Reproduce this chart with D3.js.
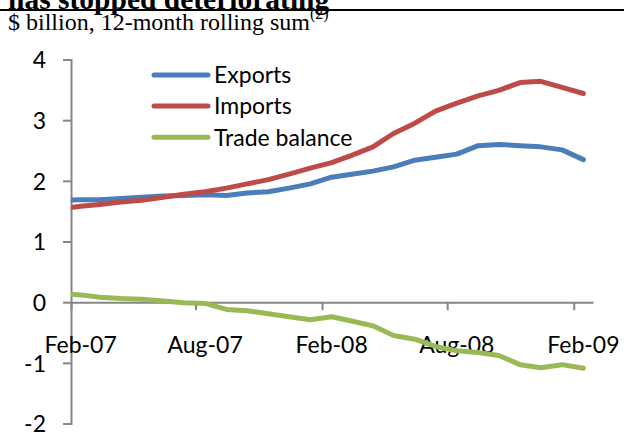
<!DOCTYPE html>
<html>
<head>
<meta charset="utf-8">
<script src="https://cdn.jsdelivr.net/npm/d3@7"></script>
<style>
  html, body { margin: 0; padding: 0; background: #fff; }
  svg { display: block; }
</style>
</head>
<body>
<svg id="chart" width="624" height="436"></svg>
<script>
// ---- data ----
const months = ["2007-01","2007-02","2007-03","2007-04","2007-05","2007-06","2007-07","2007-08","2007-09","2007-10","2007-11","2007-12",
                "2008-01","2008-02","2008-03","2008-04","2008-05","2008-06","2008-07","2008-08","2008-09","2008-10","2008-11","2008-12",
                "2009-01","2009-02"];
const exportsVals = [1.68,1.69,1.69,1.71,1.73,1.75,1.76,1.77,1.76,1.80,1.82,1.88,
                     1.95,2.06,2.11,2.16,2.23,2.34,2.39,2.44,2.58,2.60,2.58,2.56,
                     2.51,2.35];
const importsVals = [1.54,1.58,1.61,1.65,1.68,1.73,1.78,1.82,1.88,1.95,2.02,2.11,
                     2.21,2.30,2.42,2.56,2.78,2.95,3.15,3.28,3.40,3.49,3.62,3.64,
                     3.54,3.44];
const balanceVals = [0.14,0.12,0.08,0.06,0.05,0.02,-0.01,-0.02,-0.12,-0.14,-0.19,-0.24,
                     -0.29,-0.24,-0.31,-0.39,-0.55,-0.61,-0.73,-0.80,-0.83,-0.88,-1.03,-1.08,
                     -1.03,-1.09];
const seriesNames = ["Exports","Imports","Trade balance"];
const yTicks = [4,3,2,1,0,-1,-2];
const xTickMonths = ["2007-02","2007-08","2008-02","2008-08","2009-02"];
const xTickLabels = ["Feb-07","Aug-07","Feb-08","Aug-08","Feb-09"];
const axisStart = "2007-02", axisEnd = "2009-03";

// ---- layout ----
const svg = d3.select("#chart");
const L = 71, R = 593, T = 59.5, B = 423.5;
const colors = ["#4A7EBB","#BE4B48","#98B954"];
const tickFont = "Lato, 'Open Sans', sans-serif";

const parseM = d3.timeParse("%Y-%m");
const mid = m => { const d = parseM(m); return new Date(d.getFullYear(), d.getMonth(), 15); };

const x = d3.scaleTime().domain([parseM(axisStart), parseM(axisEnd)]).range([L, R]);
const y = d3.scaleLinear().domain([-2, 4]).range([B, T]);

// title (cut off at top) and rule
svg.append("text").attr("x", 8).attr("y", 8.5)
  .attr("font-family", "'Liberation Serif', 'Times New Roman', serif")
  .attr("font-weight", "bold").attr("font-size", 29.5).attr("fill", "#000")
  .text("has stopped deteriorating");
svg.append("line").attr("x1", 0).attr("x2", 624).attr("y1", 10).attr("y2", 10)
  .attr("stroke", "#000").attr("stroke-width", 2);

const sub = svg.append("text").attr("x", 8).attr("y", 30)
  .attr("font-family", "'Liberation Serif', 'Times New Roman', serif")
  .attr("font-size", 24).attr("fill", "#000");
sub.append("tspan").text("$ billion, 12-month rolling sum");
sub.append("tspan").attr("font-size", 16).attr("dy", -11).text("(2)");

// y axis
const yAxis = d3.axisLeft(y).tickValues(yTicks).tickFormat(d => String(d)).tickSize(8).tickPadding(17);
const gy = svg.append("g").attr("transform", `translate(${L},0)`).call(yAxis);
gy.select(".domain").attr("stroke", "#868686").attr("stroke-width", 2);
gy.selectAll(".tick line").attr("stroke", "#868686").attr("stroke-width", 2);
gy.selectAll(".tick text").attr("font-family", tickFont).attr("font-size", 23).attr("fill", "#000")
  .attr("dy", "0.36em");

// x axis at y=0
const xAxis = d3.axisBottom(x).tickValues(xTickMonths.map(parseM)).tickFormat("").tickSize(8).tickSizeOuter(0);
const gx = svg.append("g").attr("transform", `translate(0,${y(0)})`).call(xAxis);
gx.select(".domain").attr("stroke", "#868686").attr("stroke-width", 2);
gx.selectAll(".tick line").attr("stroke", "#868686").attr("stroke-width", 2);

// x labels centred on mid-month
svg.append("g").selectAll("text").data(xTickMonths).join("text")
  .attr("x", m => x(mid(m))).attr("y", 353)
  .attr("text-anchor", "middle")
  .attr("font-family", tickFont).attr("font-size", 23).attr("fill", "#000")
  .text((m, i) => xTickLabels[i]);

// clip
svg.append("clipPath").attr("id", "plotclip").append("rect")
  .attr("x", L).attr("y", 0).attr("width", R - L + 10).attr("height", 436);

const line = d3.line().x((d, i) => x(mid(months[i]))).y(d => y(d));
const allSeries = [exportsVals, importsVals, balanceVals];
svg.append("g").attr("clip-path", "url(#plotclip)")
  .selectAll("path").data(allSeries).join("path")
  .attr("d", d => line(d))
  .attr("fill", "none")
  .attr("stroke", (d, i) => colors[i])
  .attr("stroke-width", 5)
  .attr("stroke-linejoin", "round")
  .attr("stroke-linecap", "round");

// legend
const lg = svg.append("g");
const legY = [75, 106, 137.3];
seriesNames.forEach((name, i) => {
  lg.append("line").attr("x1", 154).attr("x2", 208).attr("y1", legY[i]).attr("y2", legY[i])
    .attr("stroke", colors[i]).attr("stroke-width", 5).attr("stroke-linecap", "round");
  lg.append("text").attr("x", 214).attr("y", legY[i]).attr("dy", "0.36em")
    .attr("font-family", tickFont).attr("font-size", 23).attr("fill", "#000").text(name);
});
</script>
</body>
</html>
